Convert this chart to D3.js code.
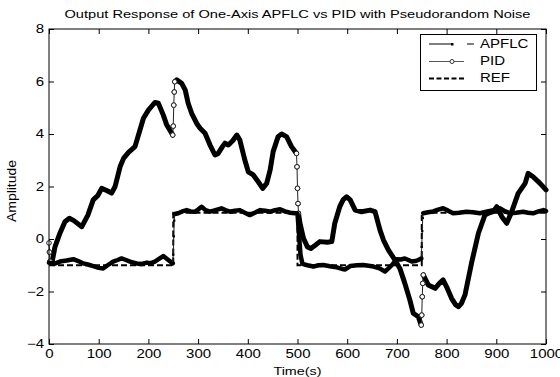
<!DOCTYPE html>
<html><head><meta charset="utf-8">
<script src="https://cdn.jsdelivr.net/npm/d3@7/dist/d3.min.js"></script>
<style>body{margin:0;background:#fff}svg{display:block}text{font-family:"Liberation Sans",Arial,sans-serif;fill:#000}</style>
</head><body><svg id="c" width="560" height="377"></svg>
<script>
const title = "Output Response of One-Axis APFLC vs PID with Pseudorandom Noise";
const xLabel = "Time(s)";
const yLabel = "Amplitude";
const xTicks = [0,100,200,300,400,500,600,700,800,900,1000];
const yTicks = [-4,-2,0,2,4,6,8];
const seriesNames = ["APFLC","PID","REF"];

const refT = [0,250,250,500,500,750,750,1000];
const refV = [-1,-1,1,1,-1,-1,1,1];

const apflcT = [0,10,22,35,49,60,69,80,89,100,109,118,129,138,146,155,163,176,186,197,205,213,222,230,240,249,
 250,251,252,253,260,268,277,285,294,300,307,315,324,335,347,355,364,374,384,394,404,414,425,435,445,455,465,475,485,495,500,
 503,506,510,520,532,542,552,565,579,590,596,606,620,632,643,653,665,676,683,690,700,708,716,723,730,737,743,749,
 750,751,752,753,763,773,783,793,803,813,825,840,853,867,880,894,907,918,928,940,954,964,974,985,995,1000];
const apflcV = [-0.9,-0.95,-0.86,-0.82,-0.77,-0.85,-0.93,-0.98,-1.03,-1.1,-1.12,-1.0,-0.86,-0.8,-0.74,-0.8,-0.86,-0.93,-0.95,-0.9,-0.92,-0.86,-0.75,-0.65,-0.8,-0.93,
 -0.6,0.1,0.7,0.95,0.98,1.05,1.1,1.05,1.04,1.12,1.23,1.1,1.04,1.1,1.17,1.1,1.04,1.08,1.1,1.0,0.91,1.0,1.1,1.08,1.04,1.1,1.13,1.05,1.0,0.98,0.97,
 0.2,-0.6,-0.95,-1.0,-1.05,-1.0,-0.99,-1.04,-1.08,-1.14,-1.16,-1.03,-1.0,-0.99,-1.02,-1.05,-1.12,-1.24,-1.12,-0.99,-0.77,-0.78,-0.74,-0.8,-0.86,-0.84,-0.8,-0.74,
 -0.3,0.3,0.8,0.98,1.02,1.05,1.12,1.17,1.08,0.98,1.0,1.04,1.02,0.98,1.04,1.1,1.17,1.05,0.98,1.0,1.04,1.0,0.98,1.05,1.1,1.06];

const pidT = [0,1,2,6,12,22,32,41,50,66,78,89,98,106,116,126,133,143,150,160,173,183,190,200,213,220,230,237,249,
 250,251,252,253,257,267,274,280,287,297,304,314,324,334,340,349,354,361,370,378,384,394,401,411,421,430,438,445,451,461,468,478,488,498,
 499,500,501,502,505,512,520,527,535,545,560,569,575,585,592,599,606,616,629,646,656,666,673,683,696,706,716,726,733,743,749,
 750,751,752,753,763,777,785,793,800,810,818,824,830,837,850,864,877,886,894,901,911,921,931,944,958,964,974,988,1000];
const pidV = [-0.15,-0.5,-0.85,-0.9,-0.3,0.22,0.66,0.79,0.7,0.47,0.9,1.49,1.65,1.93,1.85,1.75,2.0,2.75,3.07,3.3,3.52,4.15,4.6,4.91,5.2,5.17,4.72,4.34,3.96,
 4.3,5.1,5.6,5.99,6.06,5.93,5.68,5.17,4.79,4.41,4.22,4.03,3.58,3.2,3.25,3.52,3.65,3.58,3.75,3.96,3.77,3.01,2.56,2.44,2.18,1.93,2.12,2.63,3.33,3.9,4.0,3.9,3.52,3.26,
 2.75,1.93,1.35,0.98,0.6,0.03,-0.3,-0.36,-0.25,-0.1,-0.12,-0.1,0.6,1.23,1.5,1.61,1.49,1.1,1.04,1.1,1.04,0.34,-0.04,-0.42,-0.8,-1.12,-1.69,-2.32,-2.83,-2.96,-3.28,
 -2.9,-2.2,-1.69,-1.37,-1.75,-1.88,-1.7,-1.56,-1.82,-2.26,-2.5,-2.58,-2.45,-2.13,-0.93,0.22,0.91,1.0,1.04,1.23,0.85,0.6,1.04,1.74,2.12,2.5,2.37,2.12,1.87];

const SX = 1.25; // horizontal text stretch of the original bitmap
const svg = d3.select("#c");
const L=49,R=546,T=29,B=344;
const x = d3.scaleLinear().domain([0,1000]).range([L,R]);
const y = d3.scaleLinear().domain([-4,8]).range([B,T]);

function stext(g, xp, yp, str, size, anchor){
  return g.append("text").attr("transform",`translate(${xp},${yp}) scale(${SX},1)`)
   .attr("text-anchor",anchor||"start").attr("dominant-baseline","central")
   .style("font-size",size+"px").text(str);
}

// axes
const fmt = d3.format("d");
const ax = [
  [d3.axisBottom(x).tickValues(xTicks).tickFormat(fmt), `translate(0,${B})`, "b"],
  [d3.axisTop(x).tickValues(xTicks).tickFormat(""), `translate(0,${T})`, "t"],
  [d3.axisLeft(y).tickValues(yTicks).tickFormat(fmt), `translate(${L},0)`, "l"],
  [d3.axisRight(y).tickValues(yTicks).tickFormat(""), `translate(${R},0)`, "r"]
];
ax.forEach(([a,tr,k])=>{
  const g = svg.append("g").attr("transform",tr).call(a.tickSize(-5).tickSizeOuter(0).tickPadding(5));
  g.select(".domain").remove();
  g.selectAll("line").attr("stroke","#000");
  g.selectAll("text").style("font-size","12px").style("font-family","'Liberation Sans',Arial,sans-serif");
  if(k==="l"){
    g.selectAll("text").each(function(){
      const t=d3.select(this); const xx=+t.attr("x");
      t.attr("x", xx/SX).attr("transform",`scale(${SX},1)`);
    });
  }
  if(k==="b") g.selectAll("text").attr("transform",`scale(${SX},1)`);
});

// ref
const line = d3.line().x(d=>x(d[0])).y(d=>y(d[1]));
svg.append("path").datum(refT.map((t,i)=>[t,refV[i]])).attr("d",line)
  .attr("fill","none").attr("stroke","#000").attr("stroke-width",2).attr("stroke-dasharray","6,3");

function drawSeries(T0,V0,width,marker){
  const pts = T0.map((t,i)=>[t,V0[i]]);
  let seg=[pts[0]];
  const thin=[];
  const segs=[];
  for(let i=1;i<pts.length;i++){
    if(pts[i][0]-pts[i-1][0]<=1){
      if(seg.length>1) segs.push(seg);
      thin.push([pts[i-1],pts[i]]);
      seg=[pts[i]];
    } else seg.push(pts[i]);
  }
  if(seg.length>1) segs.push(seg);
  segs.forEach(s=>svg.append("path").datum(s).attr("d",line).attr("fill","none")
     .attr("stroke","#000").attr("stroke-width",width).attr("stroke-linejoin","round").attr("stroke-linecap","round"));
  thin.forEach(s=>svg.append("path").datum(s).attr("d",line).attr("fill","none").attr("stroke","#222").attr("stroke-width",1));
  const mp=[]; thin.forEach(s=>{mp.push(s[0]);mp.push(s[1]);});
  if(marker==="circle"){
    svg.selectAll(null).data(mp).enter().append("circle").attr("cx",d=>x(d[0])).attr("cy",d=>y(d[1]))
      .attr("r",2.3).attr("fill","#fff").attr("stroke","#222").attr("stroke-width",1);
  } else {
    svg.selectAll(null).data(mp).enter().append("rect").attr("x",d=>x(d[0])-1).attr("y",d=>y(d[1])-1)
      .attr("width",2).attr("height",2).attr("fill","#000");
  }
}
drawSeries(pidT,pidV,5,"circle");
drawSeries(apflcT,apflcV,4.5,"dot");

// frame
svg.append("rect").attr("x",L).attr("y",T).attr("width",R-L).attr("height",B-T)
  .attr("fill","none").attr("stroke","#000").attr("stroke-width",1);

// title & labels
svg.append("text").attr("x",(L+R)/2).attr("y",14).attr("text-anchor","middle").attr("dominant-baseline","central")
  .style("font-size","11.5px").attr("textLength",466).attr("lengthAdjust","spacingAndGlyphs").text(title);
stext(svg,(L+R)/2,371,xLabel,11.5,"middle");
svg.append("text").attr("transform","translate(12,191) rotate(-90)").attr("text-anchor","middle")
  .attr("dominant-baseline","central").style("font-size","12px").attr("textLength",62)
  .attr("lengthAdjust","spacingAndGlyphs").text(yLabel);

// legend
const lg = svg.append("g");
lg.append("rect").attr("x",420.5).attr("y",34.5).attr("width",116).attr("height",56)
  .attr("fill","#fff").attr("stroke","#000").attr("stroke-width",1);
const ly=[44,61.5,78.5];
lg.append("line").attr("x1",429).attr("x2",452).attr("y1",ly[0]).attr("y2",ly[0]).attr("stroke","#000").attr("stroke-width",1);
lg.append("rect").attr("x",451).attr("y",ly[0]-1).attr("width",2.5).attr("height",2.5).attr("fill","#000");
lg.append("line").attr("x1",467).attr("x2",474).attr("y1",ly[0]).attr("y2",ly[0]).attr("stroke","#000").attr("stroke-width",1);
stext(lg,480,ly[0],seriesNames[0],12,"start");
lg.append("line").attr("x1",429).attr("x2",464).attr("y1",ly[1]).attr("y2",ly[1]).attr("stroke","#555").attr("stroke-width",1);
lg.append("circle").attr("cx",452).attr("cy",ly[1]).attr("r",2).attr("fill","#fff").attr("stroke","#333");
stext(lg,480,ly[1],seriesNames[1],12,"start");
lg.append("line").attr("x1",429).attr("x2",464).attr("y1",ly[2]).attr("y2",ly[2]).attr("stroke","#000").attr("stroke-width",2).attr("stroke-dasharray","5,2.5");
stext(lg,480,ly[2],seriesNames[2],12,"start");
</script></body></html>
